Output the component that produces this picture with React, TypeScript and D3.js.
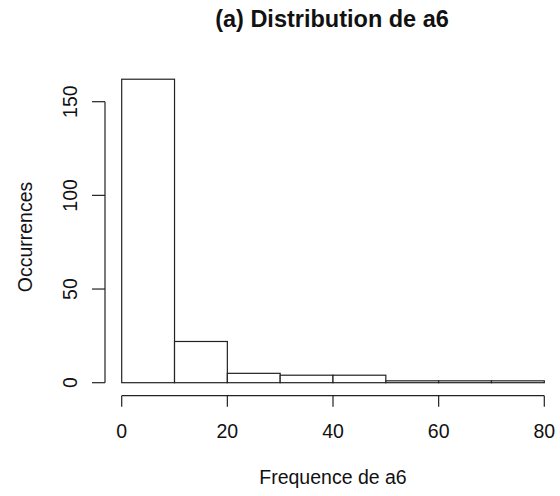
import * as d3 from "d3";

// histogram of a6: bins of width 10
const binStarts = [0, 10, 20, 30, 40, 50, 60, 70];
const binWidth = 10;
const counts = [162, 22, 5, 4, 4, 1, 1, 1];
const xTicks = [0, 20, 40, 60, 80];
const yTicks = [0, 50, 100, 150];

const title = "(a) Distribution de a6";
const xLabel = "Frequence de a6";
const yLabel = "Occurrences";

const W = 560;
const H = 496;
const font = "'Liberation Sans', Arial, Helvetica, sans-serif";
const ink = "#222";

export default function App() {
  const x = d3.scaleLinear().domain([0, 80]).range([121.7, 544.3]);
  const y = d3.scaleLinear().domain([0, 150]).range([382.7, 101.7]);

  const xAxisY = 395.7;
  const yAxisX = 105;

  return (
    <svg
      width={W}
      height={H}
      viewBox={`0 0 ${W} ${H}`}
      style={{ position: "absolute", left: 0, top: 0, background: "#fff" }}
      fontFamily={font}
    >
      {/* bars */}
      <g fill="#fff" stroke={ink} strokeWidth={1.2}>
        {counts.map((c, i) => (
          <rect
            key={i}
            x={x(binStarts[i])}
            y={y(c)}
            width={x(binStarts[i] + binWidth) - x(binStarts[i])}
            height={y(0) - y(c)}
          />
        ))}
      </g>

      {/* x axis */}
      <g stroke={ink} strokeWidth={1.2} fill="none">
        <line x1={x(0)} x2={x(80)} y1={xAxisY} y2={xAxisY} />
        {xTicks.map((t) => (
          <line key={t} x1={x(t)} x2={x(t)} y1={xAxisY} y2={xAxisY + 11} />
        ))}
      </g>
      <g fontSize={19.5} fill="#111" textAnchor="middle">
        {xTicks.map((t) => (
          <text key={t} x={x(t)} y={438}>
            {t}
          </text>
        ))}
      </g>

      {/* y axis */}
      <g stroke={ink} strokeWidth={1.2} fill="none">
        <line x1={yAxisX} x2={yAxisX} y1={y(0)} y2={y(150)} />
        {yTicks.map((t) => (
          <line key={t} x1={yAxisX - 13} x2={yAxisX} y1={y(t)} y2={y(t)} />
        ))}
      </g>
      <g fontSize={19.5} fill="#111" textAnchor="middle">
        {yTicks.map((t) => (
          <text key={t} transform={`translate(77,${y(t)}) rotate(-90)`}>
            {t}
          </text>
        ))}
      </g>

      {/* labels */}
      <text x={333} y={484} fontSize={19.5} textAnchor="middle" fill="#111">
        {xLabel}
      </text>
      <text
        transform={`translate(32,237) rotate(-90)`}
        fontSize={19.5}
        textAnchor="middle"
        fill="#111"
      >
        {yLabel}
      </text>
      <text
        x={332}
        y={27}
        fontSize={23.5}
        fontWeight="bold"
        textAnchor="middle"
        fill="#111"
      >
        {title}
      </text>
    </svg>
  );
}
